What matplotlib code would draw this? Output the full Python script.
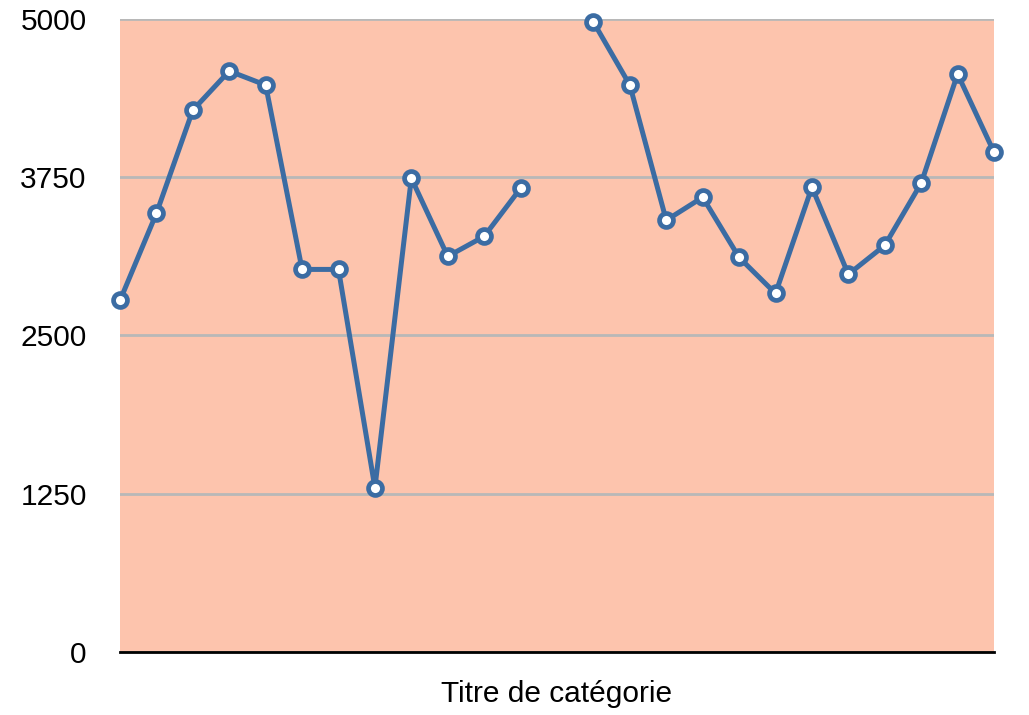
import numpy as np
import matplotlib.pyplot as plt

# values (index 12 is missing)
values = [2777, 3465, 4280, 4589, 4478, 3022, 3022, 1297, 3742, 3125, 3283, 3663,
          np.nan,
          4976, 4478, 3410, 3592, 3117, 2832, 3671, 2983, 3212, 3703, 4565, 3948]
y_ticks = [0, 1250, 2500, 3750, 5000]
x_label = "Titre de catégorie"

plt.rcParams['font.family'] = ['Liberation Sans', 'DejaVu Sans']

fig = plt.figure(figsize=(10.29, 7.15), dpi=100)
ax = fig.add_axes([120 / 1029, 63 / 715, 874 / 1029, 633 / 715])
ax.set_facecolor("#FDC4AD")

x = np.arange(len(values))
ax.plot(x, values, color="#3B6CA3", linewidth=3.6, marker="o", markersize=10,
        markerfacecolor="white", markeredgecolor="#3B6CA3", markeredgewidth=3.4,
        clip_on=False, zorder=3)

ax.set_xlim(0, len(values) - 1)
ax.set_ylim(0, 5000)
ax.set_yticks(y_ticks)
ax.set_yticklabels([str(v) for v in y_ticks], fontsize=21.5)
ax.set_xticks([])
ax.tick_params(axis="y", length=0, pad=24)
ax.grid(axis="y", color="#B8B8B8", linewidth=2)
ax.set_axisbelow(True)

for side in ["top", "right", "left"]:
    ax.spines[side].set_visible(False)
ax.spines["bottom"].set_linewidth(2)
ax.spines["bottom"].set_color("black")
ax.spines["bottom"].set_zorder(4)

ax.set_xlabel(x_label, fontsize=21.5, labelpad=20)

fig.savefig("out.png", dpi=100)
